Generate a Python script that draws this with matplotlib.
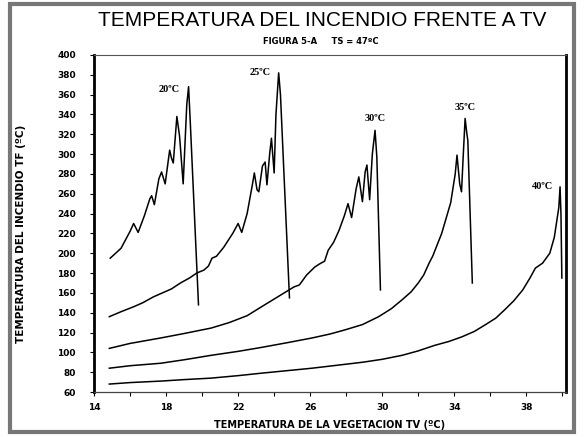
import matplotlib
matplotlib.use('Agg')
import matplotlib.pyplot as plt
from matplotlib.patches import Rectangle

# curves, one per ambient temperature
tv_20 = [14.9, 15.5, 16.0, 16.2, 16.45, 16.8, 17.1, 17.2, 17.35, 17.6, 17.75, 17.95,
         18.2, 18.3, 18.4, 18.6, 18.75, 18.95, 19.15, 19.25, 19.35, 19.8]
tf_20 = [195, 205, 222, 230, 221, 238, 255, 258, 249, 275, 282, 270,
         304, 296, 291, 338, 318, 270, 350, 368, 330, 148]

tv_25 = [14.85, 15.5, 16.2, 16.7, 17.3, 17.8, 18.3, 18.8, 19.3, 19.7, 20.1, 20.35,
         20.55, 20.8, 21.2, 21.7, 22.0, 22.2, 22.5, 22.8, 22.9, 23.05, 23.15, 23.35,
         23.5, 23.6, 23.75, 23.85, 24.0, 24.1, 24.25, 24.35, 24.85]
tf_25 = [136, 141, 146, 150, 156, 160, 164, 170, 175, 180, 183, 187,
         195, 197, 206, 220, 230, 221, 240, 270, 281, 264, 262, 288,
         292, 269, 300, 316, 281, 340, 382, 360, 155]

tv_30 = [14.85, 16.0, 17.7, 19.0, 20.5, 21.5, 22.5, 23.3, 24.2, 25.1, 25.4, 25.8,
         26.25, 26.5, 26.8, 27.0, 27.3, 27.6, 27.9, 28.1, 28.3, 28.55, 28.7, 28.9,
         29.05, 29.15, 29.3, 29.45, 29.6, 29.7, 29.9]
tf_30 = [104, 109, 114.5, 119, 124.5, 130, 137, 146, 156, 166, 168, 178,
         186, 189, 192, 203, 211, 223, 238, 250, 236, 265, 277, 252,
         282, 289, 254, 300, 324, 297, 163]

tv_35 = [14.85, 16.0, 17.7, 19.0, 20.5, 22.0, 23.3, 24.8, 26.1, 27.1, 27.9, 28.9,
         29.8, 30.5, 31.1, 31.6, 32.0, 32.3, 32.6, 32.8, 33.3, 33.8, 34.05, 34.15,
         34.3, 34.4, 34.5, 34.6, 34.7, 34.75, 35.0]
tf_35 = [84, 86.5, 89, 92.5, 97, 101, 105, 110, 114.5, 118.5, 122.5, 128,
         136, 144, 153, 161, 170, 178, 190, 197, 220, 251, 280, 299,
         270, 262, 300, 336, 320, 314, 170]

tv_40 = [14.85, 16.0, 17.7, 19.0, 20.5, 22.0, 23.3, 24.7, 26.1, 27.5, 28.9, 30.0,
         31.1, 32.0, 32.9, 33.7, 34.4, 35.1, 35.7, 36.3, 36.8, 37.3, 37.8, 38.2,
         38.5, 38.9, 39.3, 39.55, 39.8, 39.87, 39.92, 39.97]
tf_40 = [68, 69.5, 71, 72.5, 74, 76.5, 79, 81.5, 84, 87, 90, 93,
         97, 101.5, 107, 111, 115.5, 121, 127.6, 134.5, 143, 152, 163, 175,
         185, 190, 200, 216, 246, 267, 240, 175]

curves = [(tv_20, tf_20), (tv_25, tf_25), (tv_30, tf_30), (tv_35, tf_35), (tv_40, tf_40)]

# peak labels and where they sit
peak_labels = ['20ºC', '25ºC', '30ºC', '35ºC', '40ºC']
peak_label_x = [18.2, 23.2, 29.6, 34.6, 38.9]
peak_label_y = [365, 382, 336, 347, 267]

x_ticks = list(range(14, 41, 2))
x_tick_labels = ['14', '', '18', '', '22', '', '26', '', '30', '', '34', '', '38', '']
y_ticks = list(range(60, 401, 20))

fig = plt.figure(figsize=(5.84, 4.37), dpi=100)
ax = fig.add_axes([94 / 584, 45 / 437, 472 / 584, 337 / 437])

for tv, tf in curves:
    ax.plot(tv, tf, color='black', lw=1.1)

for lab, lx, ly in zip(peak_labels, peak_label_x, peak_label_y):
    ax.text(lx, ly, lab, fontsize=7.5, fontweight='bold', ha='center', va='center',
            family='Liberation Serif')

ax.set_xlim(14, 40.2)
ax.set_ylim(60, 400)
ax.set_xticks(x_ticks)
ax.set_xticklabels(x_tick_labels)
ax.set_yticks(y_ticks)
ax.set_yticklabels([str(v) for v in y_ticks])
ax.tick_params(labelsize=6.5, length=3, width=0.8, direction='out')
ax.tick_params(axis='y', pad=10)
ax.tick_params(axis='x', pad=5)
for lab in ax.get_xticklabels() + ax.get_yticklabels():
    lab.set_fontweight('bold')

# scanned look: solid sides, faint dotted top/bottom
ax.spines['left'].set_linewidth(2)
ax.spines['right'].set_linewidth(2)
ax.spines['top'].set_linewidth(0.8)
ax.spines['top'].set_linestyle((0, (2, 1)))
ax.spines['top'].set_color('#555555')
ax.spines['bottom'].set_linewidth(0.9)
ax.spines['bottom'].set_linestyle((0, (3, 1)))
ax.spines['bottom'].set_color('#444444')

ax.set_xlabel('TEMPERATURA DE LA VEGETACION TV (ºC)', fontsize=7, fontweight='bold', labelpad=6)
ax.set_ylabel('TEMPERATURA DEL INCENDIO TF (ºC)', fontsize=7.5, fontweight='bold')
ax.yaxis.set_label_coords(-0.145, 0.47)

fig.text(0.552, 0.954, 'TEMPERATURA DEL INCENDIO FRENTE A TV', fontsize=15,
         ha='center', va='center', family='Liberation Sans')
fig.text(0.55, 0.904, 'FIGURA 5-A     TS = 47ºC', fontsize=6, fontweight='bold',
         ha='center', va='center')

# page border of the scan
fig.patches.append(Rectangle((10 / 584, 5 / 437), 564 / 584, 428 / 437,
                             transform=fig.transFigure, fill=False,
                             lw=3, ec='#777777'))

fig.savefig('out.png', dpi=100)
